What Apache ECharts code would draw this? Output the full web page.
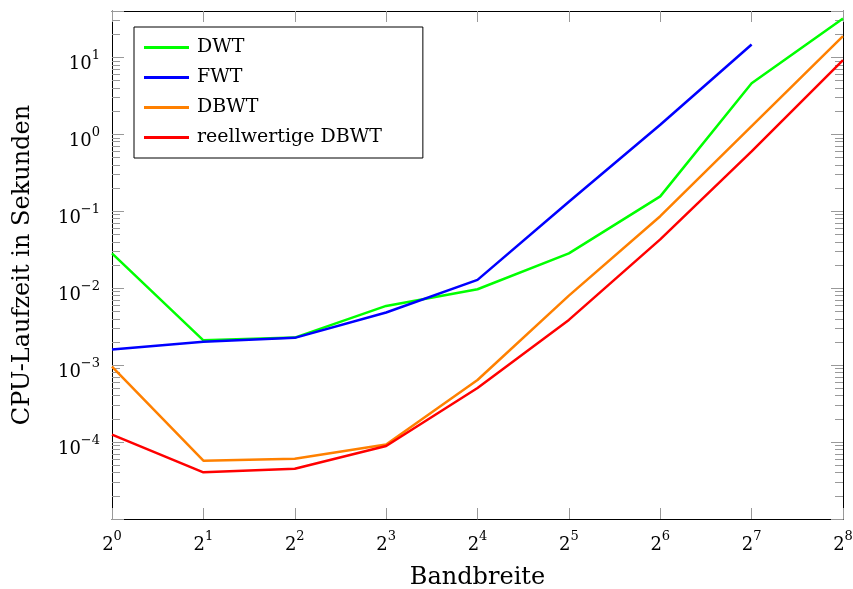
<!DOCTYPE html>
<html>
<head>
<meta charset="utf-8">
<script src="https://cdn.jsdelivr.net/npm/echarts@6/dist/echarts.min.js"></script>
<style>
  html, body { margin: 0; padding: 0; background: #fff; }
  #chart { width: 853px; height: 589px; }
</style>
</head>
<body>
<div id="chart"></div>
<script>
  // Bandbreite 2^0 .. 2^8
  let bandbreite = [1, 2, 4, 8, 16, 32, 64, 128, 256]
  let dwt = [0.0283, 0.00210, 0.00228, 0.00588, 0.00968, 0.0283, 0.156, 4.6, 32]
  let fwt = [0.0016, 0.00201, 0.00226, 0.00483, 0.0128, 0.133, 1.33, 14.7]
  let dbwt = [0.000953, 5.73e-5, 6.08e-5, 9.3e-5, 6.41e-4, 0.0080, 0.0861, 1.28, 18.9]
  let reellDbwt = [1.25e-4, 4.04e-5, 4.5e-5, 8.87e-5, 5.05e-4, 0.00387, 0.043, 0.598, 9.2]

  let serif = 'DejaVu Serif'
  let tickColor = '#999'

  function pairs (ys) {
    return ys.map(function (y, i) {
      return [bandbreite[i], y]
    })
  }

  function powLabel (base, logFn) {
    return function (value) {
      let e = Math.round(logFn(value))
      let s = e < 0 ? '\u2212' + (-e) : String(e)
      return '{b|' + base + '}{s|' + s + '}'
    }
  }

  let richLabel = {
    b: { fontFamily: serif, fontSize: 18, color: '#000', lineHeight: 24, verticalAlign: 'bottom' },
    s: { fontFamily: serif, fontSize: 13, color: '#000', lineHeight: 13, verticalAlign: 'top' }
  }

  function xAxisCfg (pos, labels) {
    return {
      type: 'log',
      logBase: 2,
      min: 1,
      max: 256,
      interval: 1,
      position: pos,
      axisLine: { show: true, onZero: false, lineStyle: { color: '#000', width: 1 } },
      axisTick: { show: true, inside: true, length: 11, lineStyle: { color: tickColor } },
      splitLine: { show: false },
      axisLabel: {
        show: labels,
        margin: 11,
        formatter: powLabel('2', Math.log2),
        rich: richLabel
      },
      name: labels ? 'Bandbreite' : '',
      nameLocation: 'middle',
      nameGap: 47,
      nameTextStyle: { fontFamily: serif, fontSize: 24, color: '#000' }
    }
  }

  function yAxisCfg (pos, labels) {
    return {
      type: 'log',
      logBase: 10,
      min: 1e-5,
      max: 40,
      interval: 1,
      position: pos,
      axisLine: { show: true, onZero: false, lineStyle: { color: '#000', width: 1 } },
      axisTick: { show: true, inside: true, length: 12, lineStyle: { color: tickColor } },
      minorTick: { show: true, splitNumber: 9, length: 8, lineStyle: { color: tickColor } },
      splitLine: { show: false },
      axisLabel: {
        show: labels,
        margin: 12,
        padding: [8, 0, 0, 0],
        showMinLabel: false,
        showMaxLabel: false,
        formatter: powLabel('10', Math.log10),
        rich: richLabel
      },
      name: labels ? 'CPU-Laufzeit in Sekunden' : '',
      nameLocation: 'middle',
      nameGap: 77,
      nameTextStyle: { fontFamily: serif, fontSize: 24, color: '#000' }
    }
  }

  function lineSeries (name, color, ys) {
    return {
      name: name,
      type: 'line',
      data: pairs(ys),
      showSymbol: false,
      symbol: 'none',
      lineStyle: { color: color, width: 2.5 },
      itemStyle: { color: color },
      animation: false
    }
  }

  let myChart = echarts.init(document.getElementById('chart'))
  let option = {
    backgroundColor: '#fff',
    animation: false,
    grid: { left: 112, right: 10, top: 11, bottom: 70, containLabel: false, outerBoundsMode: 'none' },
    legend: {
      orient: 'vertical',
      left: 134,
      top: 27,
      icon: 'rect',
      itemWidth: 45,
      itemHeight: 3,
      itemGap: 11,
      padding: [11, 41, 11, 10],
      borderColor: '#000',
      borderWidth: 1,
      backgroundColor: '#fff',
      textStyle: { fontFamily: serif, fontSize: 19, color: '#000', padding: [0, 0, 0, 3] },
      data: ['DWT', 'FWT', 'DBWT', 'reellwertige DBWT']
    },
    xAxis: [xAxisCfg('bottom', true), xAxisCfg('top', false)],
    yAxis: [yAxisCfg('left', true), yAxisCfg('right', false)],
    series: [
      lineSeries('DWT', '#00ff00', dwt),
      lineSeries('FWT', '#0000ff', fwt),
      lineSeries('DBWT', '#ff8000', dbwt),
      lineSeries('reellwertige DBWT', '#ff0000', reellDbwt)
    ]
  }
  myChart.setOption(option)
</script>
</body>
</html>
